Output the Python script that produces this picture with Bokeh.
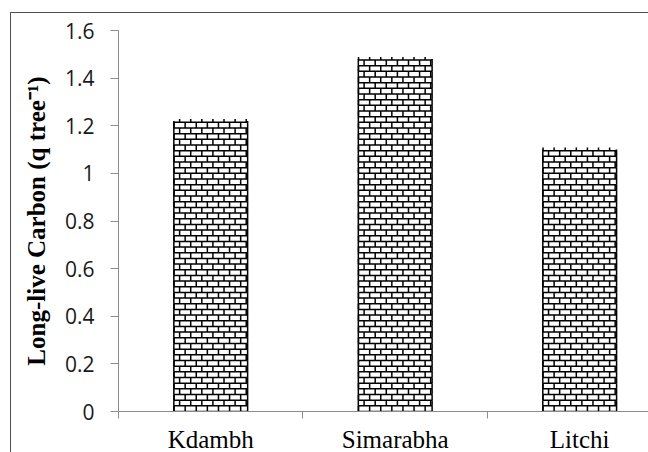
import numpy as np
from bokeh.plotting import figure
from bokeh.models import Range1d, FixedTicker
from bokeh.embed import file_html
from bokeh.resources import INLINE

# ---- data ----
categories = ["Kdambh", "Simarabha", "Litchi"]
values = [1.22, 1.48, 1.10]
y_ticks = [0, 0.2, 0.4, 0.6, 0.8, 1, 1.2, 1.4, 1.6]
y_tick_labels = ["0", "0.2", "0.4", "0.6", "0.8", "1", "1.2", "1.4", "1.6"]
y_label = "Long-live Carbon (q tree\u207b\u00b9)"

# ---- layout / style constants ----
FRAME_W, FRAME_H = 530, 381
X_END = 2.873          # visible part of the category axis (chart is cut on the right)
Y_END = 1.6
BAR_W = 0.4
ROW_PX, BRICK_PX = 5.67, 11.1   # brick pattern size in pixels

centers = [i + 0.5 for i in range(len(categories))]
bounds = [i for i in range(len(categories) + 1)]

p = figure(
    frame_width=FRAME_W, frame_height=FRAME_H,
    min_border_left=118, min_border_top=30, min_border_right=0, min_border_bottom=30,
    x_range=Range1d(0, X_END), y_range=Range1d(0, Y_END),
    output_backend="svg", toolbar_location=None,
)
p.outline_line_color = None
p.grid.grid_line_color = None
p.background_fill_color = "white"
p.border_fill_color = None
# outer chart border (only its left and top edges are inside the picture)
p.styles = {
    "background": (
        "linear-gradient(#505050, #505050) 10px 12px / 1px 100% no-repeat, "
        "linear-gradient(#505050, #505050) 10px 12px / 100% 1px no-repeat, white"
    )
}

# bars (white body) + brick texture built from the bar geometry
p.vbar(x=centers, top=values, width=BAR_W, bottom=0,
       fill_color="white", line_color=None)

rh = ROW_PX * Y_END / FRAME_H        # row height in data units
bw = BRICK_PX * X_END / FRAME_W      # brick width in data units
hx0, hx1, hy = [], [], []
vx, vy0, vy1 = [], [], []
for c, top in zip(centers, values):
    left, right = c - BAR_W / 2, c + BAR_W / 2
    n_rows = int(np.floor(top / rh))
    for k in range(n_rows + 1):
        y = k * rh
        hx0.append(left); hx1.append(right); hy.append(y)
        ytop = min(y + rh, top + rh * 0.35)
        off = (k % 2) * bw / 2
        for xj in np.arange(left + off + bw * 0.02, right + 1e-9, bw):
            vx.append(xj); vy0.append(y); vy1.append(ytop)
        # bar side edges
        vx.append(left); vy0.append(y); vy1.append(min(y + rh, top))
        vx.append(right); vy0.append(y); vy1.append(min(y + rh, top))

p.segment(x0=hx0, y0=hy, x1=hx1, y1=hy, line_color="black", line_width=1.5)
p.segment(x0=vx, y0=vy0, x1=vx, y1=vy1, line_color="black", line_width=1.5)

axis_grey = "#8c8c8c"

# x axis
xa = p.xaxis[0]
xa.ticker = FixedTicker(ticks=centers, minor_ticks=bounds)
xa.major_label_overrides = {c: n for c, n in zip(centers, categories)}
xa.axis_line_color = axis_grey
xa.major_tick_line_color = None
xa.major_tick_out = 0
xa.major_tick_in = 0
xa.minor_tick_line_color = axis_grey
xa.minor_tick_out = 7
xa.minor_tick_in = 0
xa.major_label_standoff = 7
xa.major_label_text_font = "Liberation Serif"
xa.major_label_text_font_size = "25px"
xa.major_label_text_color = "black"

# y axis
ya = p.yaxis[0]
ya.ticker = FixedTicker(ticks=y_ticks, minor_ticks=[])
ya.major_label_overrides = {t: s for t, s in zip(y_ticks, y_tick_labels)}
ya.axis_line_color = axis_grey
ya.major_tick_line_color = axis_grey
ya.major_tick_out = 8
ya.major_tick_in = 0
ya.minor_tick_line_color = None
ya.major_label_standoff = 16
ya.major_label_text_font = "Open Sans"
ya.major_label_text_font_size = "21px"
ya.major_label_text_color = "#1a1a1a"
ya.axis_label = y_label
ya.axis_label_text_font = "Liberation Serif"
ya.axis_label_text_font_style = "bold"
ya.axis_label_text_font_size = "25px"
ya.axis_label_text_color = "black"
ya.axis_label_standoff = 12

open("out.html", "w").write(file_html(p, INLINE))
